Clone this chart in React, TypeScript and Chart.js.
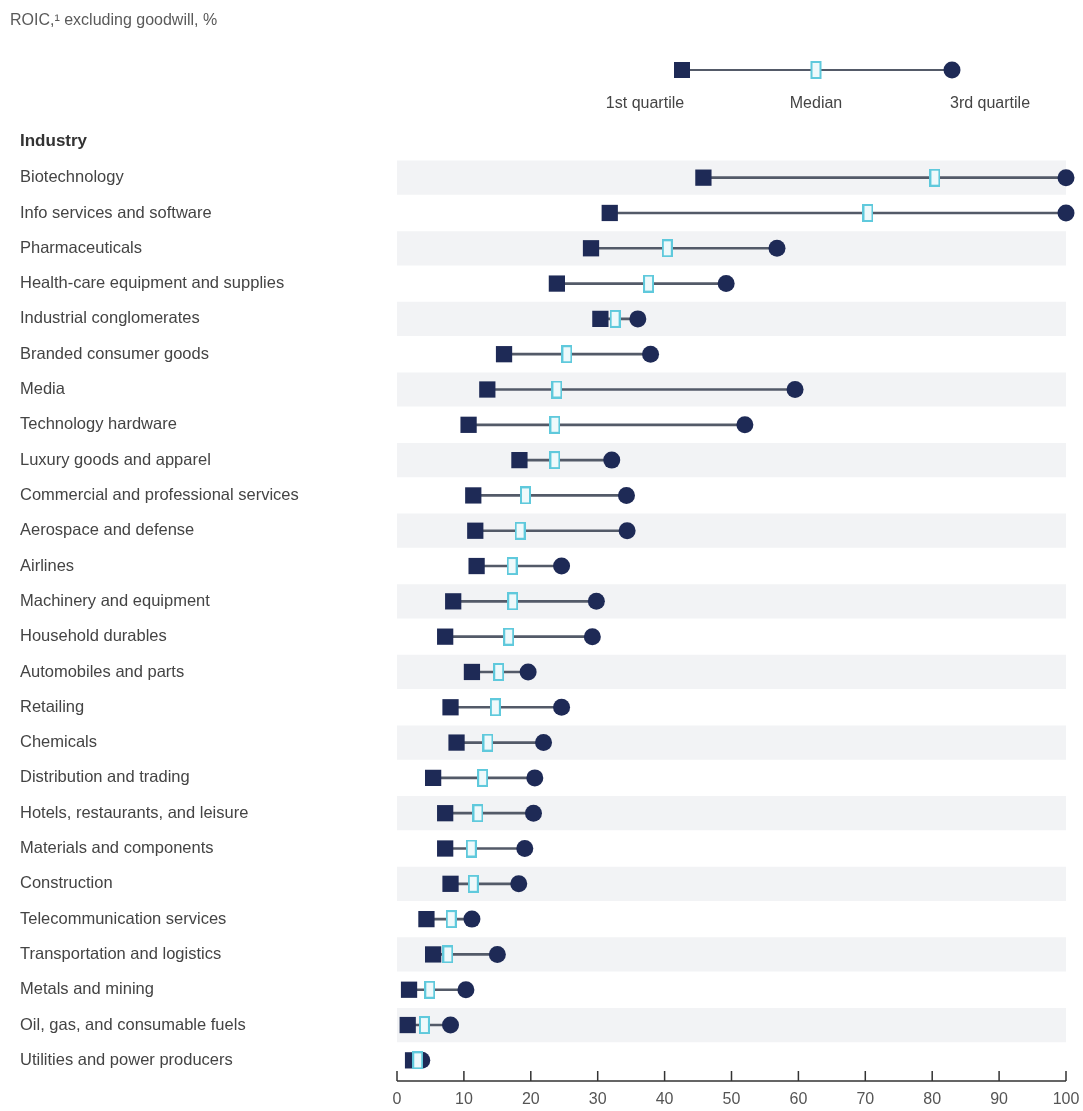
import React, { useEffect, useRef } from "react";
import { Chart, registerables } from "chart.js";

Chart.register(...registerables);

// Industries, top to bottom
const industries = [
  "Biotechnology",
  "Info services and software",
  "Pharmaceuticals",
  "Health-care equipment and supplies",
  "Industrial conglomerates",
  "Branded consumer goods",
  "Media",
  "Technology hardware",
  "Luxury goods and apparel",
  "Commercial and professional services",
  "Aerospace and defense",
  "Airlines",
  "Machinery and equipment",
  "Household durables",
  "Automobiles and parts",
  "Retailing",
  "Chemicals",
  "Distribution and trading",
  "Hotels, restaurants, and leisure",
  "Materials and components",
  "Construction",
  "Telecommunication services",
  "Transportation and logistics",
  "Metals and mining",
  "Oil, gas, and consumable fuels",
  "Utilities and power producers",
];

// ROIC excluding goodwill, %
const firstQuartile = [
  45.8, 31.8, 29.0, 23.9, 30.4, 16.0, 13.5, 10.7, 18.3, 11.4, 11.7, 11.9, 8.4,
  7.2, 11.2, 8.0, 8.9, 5.4, 7.2, 7.2, 8.0, 4.4, 5.4, 1.8, 1.6, 2.4,
];
const medianValues = [
  80.4, 70.4, 40.4, 37.6, 32.6, 25.4, 23.9, 23.6, 23.6, 19.2, 18.4, 17.2, 17.3,
  16.7, 15.2, 14.7, 13.6, 12.8, 12.1, 11.1, 11.4, 8.1, 7.6, 4.9, 4.1, 3.1,
];
const thirdQuartile = [
  100, 100, 56.8, 49.2, 36.0, 37.9, 59.5, 52.0, 32.1, 34.3, 34.4, 24.6, 29.8,
  29.2, 19.6, 24.6, 21.9, 20.6, 20.4, 19.1, 18.2, 11.2, 15.0, 10.3, 8.0, 3.7,
];

const xTicks = [0, 10, 20, 30, 40, 50, 60, 70, 80, 90, 100];

const NAVY = "#1e2a56";
const LINE = "#535a68";
const CYAN = "#5fc9dc";
const MEDIAN_FILL = "#eef9fb";
const BAND = "#f2f3f5";
const TEXT = "#444444";
const FONT = "'Liberation Sans', Arial, sans-serif";

function makeMedianMarker(): HTMLCanvasElement {
  const c = document.createElement("canvas");
  c.width = 11;
  c.height = 18;
  const g = c.getContext("2d")!;
  g.fillStyle = MEDIAN_FILL;
  g.fillRect(1, 1, 9, 16);
  g.strokeStyle = CYAN;
  g.lineWidth = 2;
  g.strokeRect(1, 1, 9, 16);
  return c;
}

// Title, column heading and key above the plot
const headerPlugin = {
  id: "header",
  afterDraw(chart: any) {
    const ctx = chart.ctx as CanvasRenderingContext2D;
    ctx.save();
    ctx.textBaseline = "middle";

    ctx.fillStyle = "#5a5a5a";
    ctx.font = `16px ${FONT}`;
    ctx.textAlign = "left";
    ctx.fillText("ROIC,¹ excluding goodwill, %", 10, 21);

    ctx.fillStyle = "#333333";
    ctx.font = `bold 17px ${FONT}`;
    ctx.fillText("Industry", 20, 141);

    // key
    const ky = 70;
    const xs = [682, 816, 952];
    ctx.strokeStyle = LINE;
    ctx.lineWidth = 2;
    ctx.beginPath();
    ctx.moveTo(xs[0], ky);
    ctx.lineTo(xs[2], ky);
    ctx.stroke();

    ctx.fillStyle = NAVY;
    ctx.beginPath();
    ctx.arc(xs[2], ky, 8.5, 0, Math.PI * 2);
    ctx.fill();
    ctx.fillRect(xs[0] - 8, ky - 8, 16, 16);

    ctx.fillStyle = MEDIAN_FILL;
    ctx.fillRect(xs[1] - 4.5, ky - 8, 9, 16);
    ctx.strokeStyle = CYAN;
    ctx.strokeRect(xs[1] - 4.5, ky - 8, 9, 16);

    ctx.fillStyle = TEXT;
    ctx.font = `16px ${FONT}`;
    ctx.textAlign = "center";
    ctx.fillText("1st quartile", 645, 104);
    ctx.fillText("Median", 816, 104);
    ctx.fillText("3rd quartile", 990, 104);
    ctx.restore();
  },
};

// Bottom axis line with upward tick marks
const axisPlugin = {
  id: "axisLine",
  afterDraw(chart: any) {
    const ctx = chart.ctx as CanvasRenderingContext2D;
    const xs = chart.scales.x;
    const y = chart.chartArea.bottom + 3;
    ctx.save();
    ctx.strokeStyle = "#333333";
    ctx.lineWidth = 1.5;
    ctx.beginPath();
    ctx.moveTo(xs.getPixelForValue(xTicks[0]), y);
    ctx.lineTo(xs.getPixelForValue(xTicks[xTicks.length - 1]), y);
    for (const t of xTicks) {
      const px = xs.getPixelForValue(t);
      ctx.moveTo(px, y);
      ctx.lineTo(px, y - 10);
    }
    ctx.stroke();
    ctx.restore();
  },
};

export default function App() {
  const ref = useRef<HTMLCanvasElement | null>(null);

  useEffect(() => {
    if (!ref.current) return;
    const medianMarker = makeMedianMarker();
    const point = (vals: number[]) =>
      vals.map((v, i) => ({ x: v, y: industries[i] }));

    const chart = new Chart(ref.current, {
      type: "bar",
      data: {
        labels: industries,
        datasets: [
          {
            type: "bar",
            data: industries.map((_, i) => (i % 2 === 0 ? [0, 100] : null)) as any,
            backgroundColor: BAND,
            barPercentage: 1,
            categoryPercentage: 0.97,
            grouped: false,
            order: 10,
          } as any,
          {
            type: "bar",
            data: industries.map((_, i) => [firstQuartile[i], thirdQuartile[i]]) as any,
            backgroundColor: LINE,
            barThickness: 2,
            grouped: false,
            order: 5,
          } as any,
          {
            type: "line",
            data: point(thirdQuartile) as any,
            showLine: false,
            pointStyle: "circle",
            pointRadius: 8.5,
            pointBackgroundColor: NAVY,
            pointBorderWidth: 0,
            clip: false,
            order: 4,
          } as any,
          {
            type: "line",
            data: point(firstQuartile) as any,
            showLine: false,
            pointStyle: "rect",
            pointRadius: 11.5,
            pointBackgroundColor: NAVY,
            pointBorderWidth: 0,
            clip: false,
            order: 3,
          } as any,
          {
            type: "line",
            data: point(medianValues) as any,
            showLine: false,
            pointStyle: medianMarker,
            pointRadius: 9,
            clip: false,
            order: 2,
          } as any,
        ],
      },
      options: {
        indexAxis: "y",
        responsive: false,
        animation: false,
        events: [],
        layout: { padding: { left: 20, right: 17, top: 160, bottom: 0 } },
        plugins: {
          legend: { display: false },
          tooltip: { enabled: false },
        },
        scales: {
          x: {
            type: "linear",
            position: "bottom",
            min: 0,
            max: 100,
            afterBuildTicks: (s: any) => {
              s.ticks = xTicks.map((v) => ({ value: v }));
            },
            afterFit: (s: any) => {
              s.height = 33;
              s.paddingLeft = 0;
              s.paddingRight = 0;
            },
            grid: { display: false, drawTicks: false },
            border: { display: false },
            ticks: {
              color: "#555555",
              font: { family: FONT, size: 16 },
              padding: 12,
            },
          },
          y: {
            type: "category",
            labels: industries,
            afterFit: (s: any) => {
              s.width = 377;
            },
            grid: { display: false, drawTicks: false },
            border: { display: false },
            ticks: {
              crossAlign: "far",
              color: TEXT,
              font: { family: FONT, size: 16.5 },
              autoSkip: false,
            },
          },
        },
      } as any,
      plugins: [headerPlugin, axisPlugin],
    });
    return () => chart.destroy();
  }, []);

  return (
    <div style={{ position: "fixed", left: 0, top: 0, width: 1083, height: 1111, background: "#ffffff" }}>
      <canvas ref={ref} width={1083} height={1111} style={{ display: "block" }} />
    </div>
  );
}
